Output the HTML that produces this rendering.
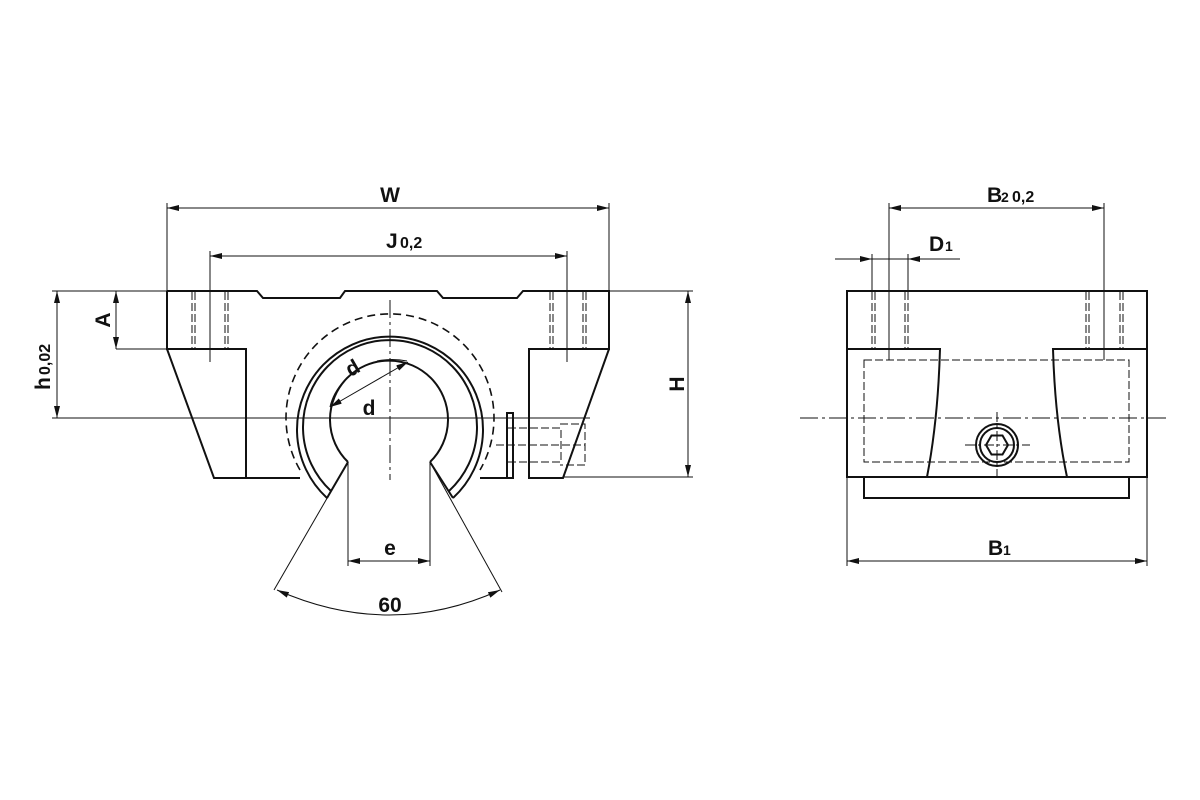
<!DOCTYPE html>
<html><head><meta charset="utf-8"><style>
html,body{margin:0;padding:0;background:#fff}
svg{display:block}
text{font-family:"Liberation Sans",sans-serif;font-weight:bold;fill:#111}
</style></head><body>
<svg width="1200" height="800" viewBox="0 0 1200 800" xmlns="http://www.w3.org/2000/svg">
<defs>
<marker id="a" viewBox="0 0 12 6" refX="12" refY="3" markerWidth="12" markerHeight="6" markerUnits="userSpaceOnUse" orient="auto-start-reverse"><path d="M0,0 L12,3 L0,6z" fill="#111"/></marker>
</defs>
<g fill="none" stroke="#111" stroke-width="1">
<line x1="167" y1="203" x2="167" y2="291"/><line x1="609" y1="203" x2="609" y2="291"/>
<line x1="167" y1="208" x2="609" y2="208" marker-start="url(#a)" marker-end="url(#a)"/>
<line x1="210" y1="251" x2="210" y2="360"/><line x1="567" y1="251" x2="567" y2="360"/>
<line x1="210" y1="256" x2="567" y2="256" marker-start="url(#a)" marker-end="url(#a)"/>
<line x1="609" y1="291" x2="693" y2="291"/><line x1="563" y1="477" x2="693" y2="477"/>
<line x1="688" y1="291" x2="688" y2="477" marker-start="url(#a)" marker-end="url(#a)"/>
<line x1="52" y1="291" x2="167" y2="291"/>
<line x1="57" y1="291" x2="57" y2="418" marker-start="url(#a)" marker-end="url(#a)"/>
<line x1="116" y1="349" x2="167" y2="349"/>
<line x1="116" y1="291" x2="116" y2="349" marker-start="url(#a)" marker-end="url(#a)"/>
<line x1="52" y1="418" x2="590" y2="418"/>
<line x1="348" y1="462" x2="348" y2="566"/><line x1="430" y1="462" x2="430" y2="566"/>
<line x1="348" y1="561" x2="430" y2="561" marker-start="url(#a)" marker-end="url(#a)"/>
<line x1="348" y1="462" x2="274" y2="590"/><line x1="430" y1="462" x2="502" y2="592"/>
<path d="M277,590 Q390,640 500,590" marker-start="url(#a)" marker-end="url(#a)"/>
<line x1="408" y1="362" x2="330" y2="407" marker-start="url(#a)" marker-end="url(#a)"/>
<path d="M377,361 Q392,358 407,361"/>
<path d="M344,381 Q333,393 330,407"/>
<line x1="390" y1="300" x2="390" y2="480" stroke-dasharray="18,4,3,4"/>
<line x1="210" y1="300" x2="210" y2="362" stroke-dasharray="14,4,3,4"/>
<line x1="567" y1="300" x2="567" y2="362" stroke-dasharray="14,4,3,4"/>
<g stroke-dasharray="8,3">
<line x1="192" y1="292" x2="192" y2="349"/><line x1="195" y1="292" x2="195" y2="349"/>
<line x1="225" y1="292" x2="225" y2="349"/><line x1="228" y1="292" x2="228" y2="349"/>
<line x1="550" y1="292" x2="550" y2="349"/><line x1="553" y1="292" x2="553" y2="349"/>
<line x1="583" y1="292" x2="583" y2="349"/><line x1="586" y1="292" x2="586" y2="349"/>
<path d="M508,428 H561 V462 H508 M560,424 H585 V465 H560"/>
<line x1="496" y1="445" x2="585" y2="445"/>
</g>
<path d="M300,470 A104,104 0 1 1 480,470" stroke-width="1.6" stroke-dasharray="8,5"/>
</g>
<g fill="none" stroke="#111" stroke-width="2">
<path d="M167,291 H257 L263,298 H340 L345,291 H437 L443,298 H517 L523,291 H609 V349 H529 V478 H563 L609,349"/>
<path d="M167,291 V349 H246 V478 H214 L167,349"/>
<path d="M246,478 H300"/><path d="M480,478 H507"/>
<rect x="507" y="413" width="6" height="65"/>
<path d="M327,498 A93,93 0 1 1 453,498"/>
<path d="M331,491 A87,87 0 1 1 449,491"/>
<path d="M327,498 L348,462"/>
<path d="M453,498 L430,462"/>
<path d="M348,462 A59,59 0 1 1 430,462"/>
</g>
<g fill="#111">
<text x="390" y="202" font-size="21" text-anchor="middle">W</text>
<text x="386" y="248" font-size="21">J</text><text x="400" y="248" font-size="16">0,2</text>
<text x="390" y="555" font-size="21" text-anchor="middle">e</text>
<text x="390" y="612" font-size="21" text-anchor="middle">60</text>
<text x="369" y="415" font-size="21" text-anchor="middle">d</text>
<text x="356" y="374" font-size="21" text-anchor="middle" transform="rotate(-30 356 374)">d</text>
<text transform="translate(684,384) rotate(-90)" font-size="21" text-anchor="middle">H</text>
<text transform="translate(110,320) rotate(-90)" font-size="21" text-anchor="middle">A</text>
<text transform="translate(50,390) rotate(-90)" font-size="21">h</text>
<text transform="translate(50,375) rotate(-90)" font-size="16">0,02</text>
</g>
<g fill="none" stroke="#111" stroke-width="1">
<line x1="889" y1="203" x2="889" y2="360"/><line x1="1104" y1="203" x2="1104" y2="360"/>
<line x1="889" y1="208" x2="1104" y2="208" marker-start="url(#a)" marker-end="url(#a)"/>
<line x1="835" y1="259" x2="872" y2="259" marker-end="url(#a)"/>
<line x1="960" y1="259" x2="908" y2="259" marker-end="url(#a)"/>
<line x1="872" y1="259" x2="908" y2="259"/>
<line x1="872" y1="254" x2="872" y2="291"/><line x1="908" y1="254" x2="908" y2="291"/>
<line x1="847" y1="477" x2="847" y2="566"/><line x1="1147" y1="477" x2="1147" y2="566"/>
<line x1="847" y1="561" x2="1147" y2="561" marker-start="url(#a)" marker-end="url(#a)"/>
<line x1="800" y1="418" x2="1170" y2="418" stroke-dasharray="18,4,3,4"/>
<line x1="997" y1="412" x2="997" y2="478" stroke-dasharray="10,3,3,3"/>
<line x1="965" y1="445" x2="1030" y2="445" stroke-dasharray="10,3,3,3"/>
<g stroke-dasharray="8,3">
<rect x="864" y="360" width="265" height="102"/>
<line x1="872" y1="292" x2="872" y2="349"/><line x1="875" y1="292" x2="875" y2="349"/>
<line x1="905" y1="292" x2="905" y2="349"/><line x1="908" y1="292" x2="908" y2="349"/>
<line x1="1086" y1="292" x2="1086" y2="349"/><line x1="1089" y1="292" x2="1089" y2="349"/>
<line x1="1120" y1="292" x2="1120" y2="349"/><line x1="1123" y1="292" x2="1123" y2="349"/>
</g>
</g>
<g fill="none" stroke="#111" stroke-width="2">
<rect x="847" y="291" width="300" height="186"/>
<path d="M847,349 H940 Q938,420 927,477"/>
<path d="M1147,349 H1053 Q1055,420 1067,477"/>
<rect x="864" y="477" width="265" height="21"/>
<circle cx="997" cy="445" r="21"/><circle cx="997" cy="445" r="17"/>
<path d="M1008,445 L1002.5,454.5 L991.5,454.5 L986,445 L991.5,435.5 L1002.5,435.5Z"/>
</g>
<g fill="#111">
<text x="987" y="202" font-size="21">B</text><text x="1001" y="202" font-size="14">2</text><text x="1012" y="202" font-size="16">0,2</text>
<text x="929" y="251" font-size="21">D</text><text x="945" y="251" font-size="14">1</text>
<text x="988" y="555" font-size="21">B</text><text x="1003" y="555" font-size="14">1</text>
</g>
</svg>
</body></html>
